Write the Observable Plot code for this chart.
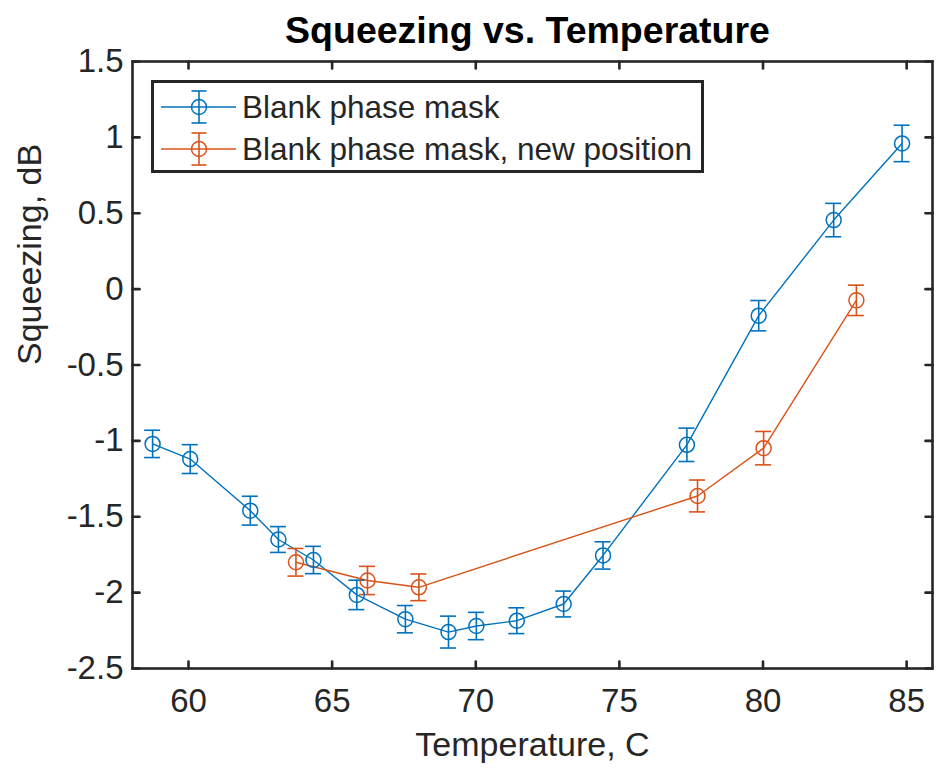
<!DOCTYPE html>
<html><head><meta charset="utf-8">
<script src="https://cdn.jsdelivr.net/npm/d3@7"></script>
<script src="https://cdn.jsdelivr.net/npm/@observablehq/plot@0.6"></script>
<style>
body{margin:0;background:#fff;}
#wrap{position:relative;width:937px;height:776px;font-family:"Liberation Sans",Arial,Helvetica,sans-serif;}
#legend{position:absolute;left:151px;top:80px;width:553px;height:93px;border:3px solid #262626;background:#fff;box-sizing:border-box;}
.row{position:absolute;left:0;height:40px;display:flex;align-items:center;font-size:31.5px;color:#262626;white-space:nowrap;}
.row svg{margin-right:1px;}
</style></head><body><div id="wrap"><div id="chart"></div><div id="legend"></div></div>
<script>
const title = "Squeezing vs. Temperature";
const xLabel = "Temperature, C";
const yLabel = "Squeezing, dB";
const seriesNames = ["Blank phase mask", "Blank phase mask, new position"];
const seriesColors = ["#0072BD", "#D95319"];
const xTicks = [60, 65, 70, 75, 80, 85];
const yTicks = [-2.5, -2, -1.5, -1, -0.5, 0, 0.5, 1, 1.5];

const blueTemp = [58.75, 60.06, 62.15, 63.13, 64.35, 65.86, 67.55, 69.05, 70.02, 71.43, 73.06, 74.43, 77.35, 79.85, 82.46, 84.84];
const blueSqueeze = [-1.02, -1.12, -1.46, -1.65, -1.785, -2.015, -2.175, -2.26, -2.22, -2.185, -2.075, -1.755, -1.026, -0.175, 0.455, 0.96];
const blueErr = [0.09, 0.095, 0.095, 0.085, 0.09, 0.097, 0.09, 0.105, 0.09, 0.085, 0.085, 0.09, 0.11, 0.1, 0.11, 0.12];

const orangeTemp = [63.74, 66.23, 68.02, 77.72, 80.02, 83.25];
const orangeSqueeze = [-1.80, -1.92, -1.965, -1.363, -1.048, -0.074];
const orangeErr = [0.091, 0.093, 0.088, 0.105, 0.11, 0.1];

const data = [
  ...blueTemp.map((x, i) => ({s: seriesNames[0], x, y: blueSqueeze[i], e: blueErr[i]})),
  ...orangeTemp.map((x, i) => ({s: seriesNames[1], x, y: orangeSqueeze[i], e: orangeErr[i]}))
];

const axisColor = "#262626";
const tickShape = {draw(context, l) { context.moveTo(0, 0); context.lineTo(0, -l); }};
const fmt = d => String(d);

const chart = Plot.plot({
  width: 937,
  height: 776,
  marginLeft: 132,
  marginRight: 5,
  marginTop: 61,
  marginBottom: 108,
  style: {fontFamily: '"Liberation Sans", Arial, Helvetica, sans-serif', color: axisColor, background: "#fff"},
  x: {domain: [58.05, 85.9]},
  y: {domain: [-2.5, 1.5]},
  color: {domain: seriesNames, range: seriesColors},
  marks: [
    Plot.line(data, {x: "x", y: "y", z: "s", stroke: "s", strokeWidth: 1.4}),
    Plot.ruleX(data, {x: "x", y1: d => d.y - d.e, y2: d => d.y + d.e, stroke: "s", strokeWidth: 1.6}),
    Plot.ruleY(data, {y: d => d.y - d.e, x1: "x", x2: "x", insetLeft: -8, insetRight: -8, stroke: "s", strokeWidth: 1.6}),
    Plot.ruleY(data, {y: d => d.y + d.e, x1: "x", x2: "x", insetLeft: -8, insetRight: -8, stroke: "s", strokeWidth: 1.6}),
    Plot.dot(data, {x: "x", y: "y", r: 7.5, stroke: "s", fill: "none", strokeWidth: 1.5}),
    Plot.frame({stroke: axisColor, strokeWidth: 2.6}),
    Plot.vectorX(xTicks, {x: d => d, frameAnchor: "bottom", anchor: "start", rotate: 0, length: 7, shape: tickShape, stroke: axisColor, strokeWidth: 2.6}),
    Plot.vectorX(xTicks, {x: d => d, frameAnchor: "top", anchor: "start", rotate: 180, length: 7, shape: tickShape, stroke: axisColor, strokeWidth: 2.6}),
    Plot.vectorY(yTicks, {y: d => d, frameAnchor: "left", anchor: "start", rotate: 90, length: 7, shape: tickShape, stroke: axisColor, strokeWidth: 2.6}),
    Plot.vectorY(yTicks, {y: d => d, frameAnchor: "right", anchor: "start", rotate: -90, length: 7, shape: tickShape, stroke: axisColor, strokeWidth: 2.6}),
    Plot.axisX(xTicks, {tickSize: 0, tickPadding: 20, fontSize: 33, tickFormat: fmt, label: null, fill: axisColor}),
    Plot.axisY(yTicks, {tickSize: 0, tickPadding: 9, fontSize: 33, tickFormat: fmt, label: null, fill: axisColor}),
    Plot.text([xLabel], {text: d => d, frameAnchor: "bottom", lineAnchor: "middle", dy: 77, fontSize: 34, fill: axisColor}),
    Plot.text([yLabel], {text: d => d, frameAnchor: "left", lineAnchor: "middle", rotate: -90, dx: -102, fontSize: 34, fill: axisColor}),
    Plot.text([title], {text: d => d, frameAnchor: "top", lineAnchor: "middle", dy: -31, dx: -5, fontSize: 37.5, fontWeight: "bold", fill: "#000"})
  ]
});
document.getElementById("chart").appendChild(chart);

// legend
const legend = document.getElementById("legend");
seriesNames.forEach((name, i) => {
  const row = document.createElement("div");
  row.className = "row";
  row.style.top = (i === 0 ? 4 : 46) + "px";
  const c = seriesColors[i];
  row.innerHTML = `<svg width="87" height="40" viewBox="0 0 87 40"><line x1="7" y1="20" x2="82" y2="20" stroke="${c}" stroke-width="1.5"/><line x1="45" y1="4" x2="45" y2="36" stroke="${c}" stroke-width="1.6"/><line x1="37.5" y1="4" x2="52.5" y2="4" stroke="${c}" stroke-width="1.6"/><line x1="37.5" y1="36" x2="52.5" y2="36" stroke="${c}" stroke-width="1.6"/><circle cx="45" cy="20" r="7.5" fill="none" stroke="${c}" stroke-width="1.5"/></svg><span>${name}</span>`;
  legend.appendChild(row);
});
</script></body></html>
